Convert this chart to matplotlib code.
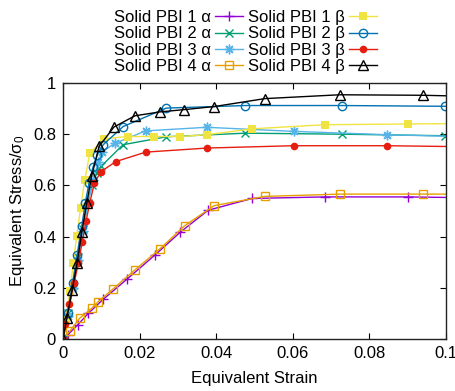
import numpy as np
import matplotlib
matplotlib.use('Agg')
import matplotlib.pyplot as plt

plt.rcParams['font.family'] = ['Liberation Sans', 'DejaVu Sans']
plt.rcParams['mathtext.fontset'] = 'custom'
plt.rcParams['mathtext.rm'] = 'Liberation Sans'
plt.rcParams['mathtext.it'] = 'Liberation Sans'

# strain / stress data
x_a1 = [0, 0.00123, 0.00383, 0.0066, 0.0105, 0.0168, 0.0240, 0.0306, 0.0379, 0.0494, 0.0683, 0.0900, 0.1]
y_a1 = [0, 0.016, 0.055, 0.10, 0.155, 0.235, 0.328, 0.417, 0.503, 0.549, 0.555, 0.555, 0.553]

x_a2 = [0, 0.0013, 0.0026, 0.0039, 0.0052, 0.0064, 0.0076, 0.0088, 0.0099, 0.0157, 0.0270, 0.0476, 0.0729, 0.0998]
y_a2 = [0, 0.10, 0.21, 0.32, 0.43, 0.53, 0.60, 0.65, 0.674, 0.759, 0.79, 0.804, 0.80, 0.794]

x_a3 = [0, 0.0013, 0.0026, 0.0039, 0.0052, 0.0065, 0.0078, 0.0092, 0.0103, 0.0135, 0.0216, 0.0375, 0.0602, 0.0847, 0.1]
y_a3 = [0, 0.09, 0.20, 0.31, 0.42, 0.53, 0.62, 0.69, 0.732, 0.764, 0.813, 0.827, 0.811, 0.798, 0.792]

x_a4 = [0, 0.0018, 0.0044, 0.0075, 0.0092, 0.0131, 0.0188, 0.0253, 0.0318, 0.0395, 0.0527, 0.0724, 0.0941, 0.1]
y_a4 = [0, 0.031, 0.082, 0.12, 0.146, 0.196, 0.270, 0.352, 0.443, 0.521, 0.557, 0.566, 0.566, 0.566]

x_b1 = [0, 0.0008, 0.0018, 0.0027, 0.0036, 0.0046, 0.0057, 0.007, 0.0107, 0.0169, 0.0238, 0.0305, 0.0376, 0.0494, 0.0683, 0.09, 0.1]
y_b1 = [0, 0.08, 0.188, 0.296, 0.404, 0.513, 0.622, 0.726, 0.782, 0.791, 0.791, 0.791, 0.798, 0.821, 0.837, 0.84, 0.841]

x_b2 = [0, 0.0012, 0.0025, 0.0037, 0.0049, 0.0058, 0.0068, 0.0078, 0.0090, 0.0105, 0.0157, 0.027, 0.0476, 0.0729, 0.0998]
y_b2 = [0, 0.10, 0.22, 0.33, 0.44, 0.53, 0.61, 0.67, 0.72, 0.759, 0.830, 0.902, 0.912, 0.912, 0.909]

x_b3 = [0, 0.0005, 0.0016, 0.0029, 0.004, 0.005, 0.006, 0.007, 0.0082, 0.0099, 0.0138, 0.0216, 0.0377, 0.0602, 0.0847, 0.1]
y_b3 = [0, 0.059, 0.136, 0.218, 0.296, 0.378, 0.459, 0.533, 0.609, 0.654, 0.693, 0.730, 0.746, 0.755, 0.755, 0.752]

x_b4 = [0, 0.001, 0.0024, 0.0037, 0.0049, 0.0062, 0.0075, 0.0094, 0.0133, 0.0188, 0.0253, 0.0316, 0.0395, 0.0527, 0.0722, 0.0941, 0.1]
y_b4 = [0, 0.081, 0.192, 0.298, 0.417, 0.531, 0.637, 0.752, 0.828, 0.872, 0.887, 0.896, 0.908, 0.939, 0.954, 0.952, 0.950]

xticks = [0, 0.02, 0.04, 0.06, 0.08, 0.1]
xticklabels = ['0', '0.02', '0.04', '0.06', '0.08', '0.1']
yticks = [0, 0.2, 0.4, 0.6, 0.8, 1]
yticklabels = ['0', '0.2', '0.4', '0.6', '0.8', '1']

fig = plt.figure(figsize=(4.55, 3.91), dpi=100)
ax = fig.add_axes([63/455, 1-339/391, (446-63)/455, (339-83)/391])

lw = 1.0
ax.plot(x_a1, y_a1, color='#9400D3', lw=lw, marker='+', ms=7, mew=1, markevery=slice(0, -1), label='Solid PBI 1 α')
ax.plot(x_a2, y_a2, color='#009E73', lw=lw, marker='x', ms=5.5, mew=1, label='Solid PBI 2 α')
ax.plot(x_a3, y_a3, color='#56B4E9', lw=lw, marker=(8, 2, 0), ms=7, mew=1, markevery=slice(0, -1), label='Solid PBI 3 α')
ax.plot(x_a4, y_a4, color='#E69F00', lw=lw, marker='s', ms=6, mfc='none', mew=1, markevery=slice(0, -1), label='Solid PBI 4 α')
ax.plot(x_b1, y_b1, color='#F0E442', lw=lw, marker='s', ms=6, mew=0, markevery=slice(0, -1), label='Solid PBI 1 β')
ax.plot(x_b2, y_b2, color='#0072B2', lw=lw, marker='o', ms=6, mfc='none', mew=1, label='Solid PBI 2 β')
ax.plot(x_b3, y_b3, color='#E51E10', lw=lw, marker='o', ms=5.5, mew=0, markevery=slice(0, -1), label='Solid PBI 3 β')
ax.plot(x_b4, y_b4, color='black', lw=lw, marker='^', ms=6.5, mfc='none', mew=1, markevery=slice(0, -1), label='Solid PBI 4 β')

ax.set_xlim(0, 0.1)
ax.set_ylim(0, 1)
ax.set_xticks(xticks)
ax.set_xticklabels(xticklabels)
ax.set_yticks(yticks)
ax.set_yticklabels(yticklabels)
ax.tick_params(direction='in', top=True, right=True, length=4, width=0.8, labelsize=12, pad=5)
for s in ax.spines.values():
    s.set_linewidth(1.0)
    s.set_color('#222222')

ax.set_xlabel('Equivalent Strain', fontsize=12, labelpad=7)
ax.set_ylabel('Equivalent Stress/σ$_0$', fontsize=12, labelpad=4)

fig.legend(loc='upper right', bbox_to_anchor=(387/455, 1.0), ncol=2, frameon=False,
           markerfirst=False, fontsize=12, handlelength=1.7, handletextpad=0.25,
           columnspacing=0.25, labelspacing=0.08, borderpad=0.1, handleheight=0.6)

fig.savefig('out.png', dpi=100)
